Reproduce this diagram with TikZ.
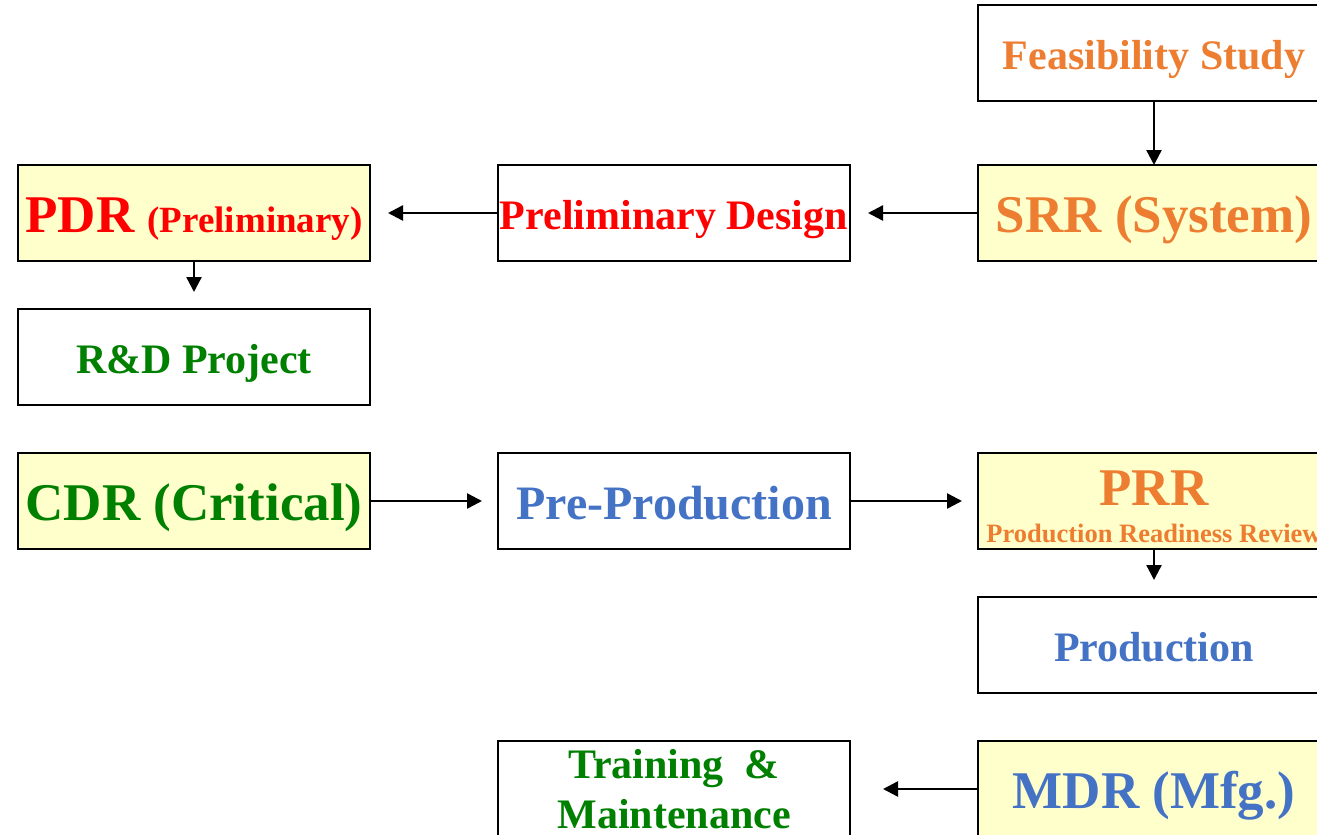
\documentclass[tikz,border=0pt]{standalone}
\usepackage{fontspec}
\setmainfont{Liberation Serif}
\usetikzlibrary{arrows.meta,positioning}

\definecolor{redtxt}{HTML}{FF0000}
\definecolor{orangetxt}{HTML}{ED7D31}
\definecolor{greentxt}{HTML}{008000}
\definecolor{bluetxt}{HTML}{4472C4}
\definecolor{boxyellow}{HTML}{FFFFCC}

\begin{document}
\begin{tikzpicture}[x=0.5pt, y=-0.5pt]
\tikzset{
    plainbox/.style={rectangle, draw=black, fill=white, line width=1.2pt, minimum width=176pt, minimum height=48pt, inner sep=0pt, outer sep=0pt, text depth=0pt, font=\bfseries},
    ybox/.style={plainbox, fill=boxyellow},
    myarrow/.style={->, >={Triangle[length=7.5pt, width=7.5pt]}, line width=1.2pt},
    bigtxt/.style={font=\fontsize{26.5pt}{30pt}\selectfont\bfseries, text height=19.5pt},
    midtxt/.style={font=\fontsize{24pt}{28pt}\selectfont\bfseries, text height=18.5pt},
    smalltxt/.style={font=\fontsize{21pt}{25pt}\selectfont\bfseries, text height=16pt}
}
\useasboundingbox (0,0) rectangle (1317,835);
\clip (0,0) rectangle (1317,835);

\node[plainbox, smalltxt, text=orangetxt] (feas) at (1154,53) {Feasibility Study};
\node[ybox, bigtxt, text=orangetxt, below=32pt of feas] (srr) {SRR (System)};
\node[plainbox, smalltxt, text=redtxt, left=64pt of srr] (prelim) {Preliminary Design};
\node[ybox, bigtxt, text=redtxt, left=64pt of prelim] (pdr) {PDR {\fontsize{18.5pt}{22pt}\selectfont (Preliminary)}};
\node[plainbox, smalltxt, text=greentxt, below=24pt of pdr] (rnd) {R\&D Project};
\node[ybox, bigtxt, text=greentxt, below=24pt of rnd] (cdr) {CDR (Critical)};
\node[plainbox, midtxt, text=bluetxt, right=64pt of cdr] (preprod) {Pre-Production};
\node[ybox, bigtxt, text=orangetxt, text height=17.5pt, text depth=13.5pt, right=64pt of preprod] (prr) {PRR};
\node[anchor=base, text=orangetxt, font=\fontsize{13.25pt}{16pt}\selectfont\bfseries, inner sep=0pt]
    (prrsub) at ([yshift=3.5pt]prr.south) {Production Readiness Review};
\node[plainbox, smalltxt, text=bluetxt, below=24pt of prr] (prod) {Production};
\node[ybox, bigtxt, text=bluetxt, below=24pt of prod] (mdr) {MDR (Mfg.)};
\node[plainbox, font=\fontsize{21pt}{25pt}\selectfont\bfseries, text=greentxt, align=center, left=64pt of mdr] (train) {Training\ \ \&\\Maintenance};

\draw[myarrow] (feas) -- (srr);
\draw[myarrow, shorten >=9pt] (srr) -- (prelim);
\draw[myarrow, shorten >=9pt] (prelim) -- (pdr);
\draw[myarrow, shorten >=8.5pt] (pdr) -- (rnd);
\draw[myarrow, shorten >=8pt] (cdr) -- (preprod);
\draw[myarrow, shorten >=8pt] (preprod) -- (prr);
\draw[myarrow, shorten >=8.5pt] (prr) -- (prod);
\draw[myarrow, shorten >=16.5pt] (mdr) -- (train);
\end{tikzpicture}
\end{document}
